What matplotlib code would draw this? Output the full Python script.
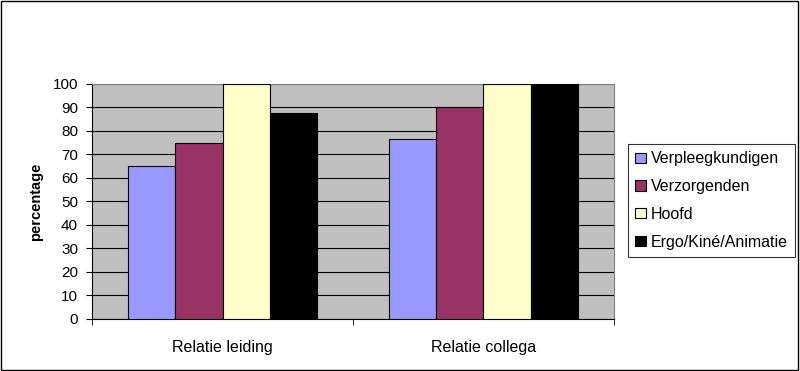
import matplotlib
matplotlib.use("Agg")
import matplotlib.pyplot as plt
import numpy as np
from matplotlib.patches import Rectangle

plt.rcParams['font.family'] = ['Liberation Sans', 'DejaVu Sans']

categories = ["Relatie leiding", "Relatie collega"]
series_names = ["Verpleegkundigen", "Verzorgenden", "Hoofd", "Ergo/Kiné/Animatie"]
values = {
    "Verpleegkundigen": [65.2, 76.5],
    "Verzorgenden": [74.8, 90.3],
    "Hoofd": [100, 100],
    "Ergo/Kiné/Animatie": [87.5, 100],
}
colors = ["#9999FF", "#993366", "#FFFFCC", "#000000"]
yticks = list(range(0, 101, 10))

fig = plt.figure(figsize=(8, 3.71), dpi=100)
fig.patch.set_facecolor("white")
# outer frame of the chart
fig.add_artist(Rectangle((0.001, 0.002), 0.997, 0.995, transform=fig.transFigure,
                         fill=False, edgecolor="black", linewidth=1))

ax = fig.add_axes([0.115, 0.1402, 0.6525, 0.6334])
ax.set_facecolor("#C0C0C0")

n = len(series_names)
bar_w = 1.0 / (n + 1.5)
x = np.arange(len(categories))
for i, name in enumerate(series_names):
    offs = (i - (n - 1) / 2) * bar_w
    ax.bar(x + offs, values[name], width=bar_w, color=colors[i],
           edgecolor="black", linewidth=0.8, label=name, zorder=3)

ax.set_xlim(-0.5, len(categories) - 0.5)
ax.set_ylim(0, 100)
ax.set_yticks(yticks)
ax.set_yticklabels([str(t) for t in yticks], fontsize=11)
ax.yaxis.grid(True, color="black", linewidth=0.8, zorder=0)
ax.set_axisbelow(True)

ax.set_xticks(x)
ax.set_xticklabels(categories, fontsize=11.5)
ax.tick_params(axis="x", length=0, pad=15)
ax.set_xticks([-0.5, 0.5, 1.5], minor=True)
ax.tick_params(axis="x", which="minor", length=4, direction="out", color="black")
ax.tick_params(axis="y", length=4, direction="out", color="black", pad=6)

for side in ["top", "right"]:
    ax.spines[side].set_color("#808080")
    ax.spines[side].set_linewidth(0.8)
for side in ["left", "bottom"]:
    ax.spines[side].set_color("black")
    ax.spines[side].set_linewidth(0.8)

ax.set_ylabel("percentage", fontsize=10.5, fontweight="bold", labelpad=7)

leg = fig.legend(loc="center left", bbox_to_anchor=(0.785, 0.4595),
                 fontsize=11.5, frameon=True, fancybox=False, edgecolor="black",
                 handlelength=0.7, handleheight=0.6, handletextpad=0.3,
                 labelspacing=0.8, borderpad=0.45, borderaxespad=0)
leg.get_frame().set_linewidth(0.8)

fig.savefig("out.png", dpi=100)
